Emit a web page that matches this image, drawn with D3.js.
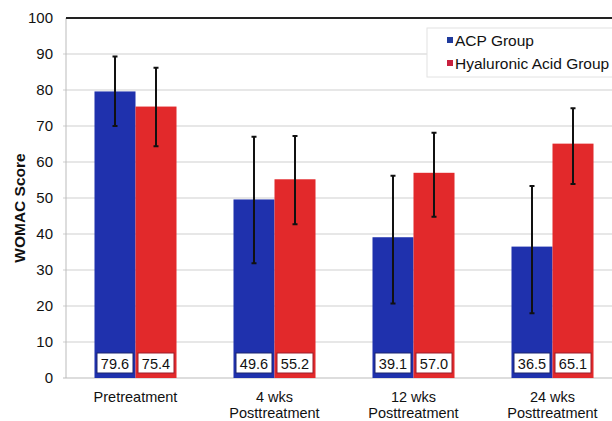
<!DOCTYPE html>
<html>
<head>
<meta charset="utf-8">
<script src="https://cdn.jsdelivr.net/npm/d3@7"></script>
<style>
  body { margin: 0; background: #fff; }
  text { font-family: "Liberation Sans", Arial, sans-serif; fill: #111; }
</style>
</head>
<body>
<div id="chart"></div>
<script>
// Data
const categories = ["Pretreatment", "4 wks\nPosttreatment", "12 wks\nPosttreatment", "24 wks\nPosttreatment"];
const seriesNames = ["ACP Group", "Hyaluronic Acid Group"];
const acpValues = [79.6, 49.6, 39.1, 36.5];
const haValues = [75.4, 55.2, 57.0, 65.1];
const acpErrLow = [70.0, 31.9, 20.7, 18.0];
const acpErrHigh = [89.3, 67.0, 56.2, 53.3];
const haErrLow = [64.4, 42.7, 44.8, 53.9];
const haErrHigh = [86.2, 67.2, 68.1, 74.9];
const yTicks = [0, 10, 20, 30, 40, 50, 60, 70, 80, 90, 100];

const colours = ["#1f31ad", "#e2292b"];
const boxBorders = ["#1a2470", "#9c1c2a"];
const legendColours = ["#1f3a9c", "#c8203e"];

const width = 612;
const height = 421;
const margin = { top: 18, right: -10, bottom: 43, left: 66 };

// Build rows for the grouped bars
const rows = categories.map((c, i) => ({
  category: c,
  bars: [
    { key: 0, value: acpValues[i], lo: acpErrLow[i], hi: acpErrHigh[i] },
    { key: 1, value: haValues[i], lo: haErrLow[i], hi: haErrHigh[i] },
  ],
}));

const svg = d3
  .select("#chart")
  .append("svg")
  .attr("width", width)
  .attr("height", height);

const xScale = d3
  .scaleBand()
  .domain(categories)
  .range([margin.left, width - margin.right])
  .paddingInner(0.41)
  .paddingOuter(0.205);

const xInner = d3.scaleBand().domain([0, 1]).range([0, xScale.bandwidth()]);

const yScale = d3
  .scaleLinear()
  .domain([0, 100])
  .range([height - margin.bottom, margin.top]);

// Grid lines
svg
  .append("g")
  .selectAll("line")
  .data(yTicks.filter((t) => t > 0 && t < 100))
  .join("line")
  .attr("x1", margin.left - 3)
  .attr("x2", width)
  .attr("y1", (d) => yScale(d))
  .attr("y2", (d) => yScale(d))
  .attr("stroke", "#cfcfcf")
  .attr("stroke-width", 1);

// Left and bottom axis lines
svg
  .append("line")
  .attr("x1", margin.left)
  .attr("x2", margin.left)
  .attr("y1", yScale(100))
  .attr("y2", yScale(0))
  .attr("stroke", "#bbb");
svg
  .append("line")
  .attr("x1", margin.left - 3)
  .attr("x2", width)
  .attr("y1", yScale(0))
  .attr("y2", yScale(0))
  .attr("stroke", "#bbb");

// Top frame line
svg
  .append("line")
  .attr("x1", margin.left)
  .attr("x2", width)
  .attr("y1", yScale(100))
  .attr("y2", yScale(100))
  .attr("stroke", "#222")
  .attr("stroke-width", 2);

// Y axis labels
const yAxis = d3.axisLeft(yScale).tickValues(yTicks).tickSize(0).tickPadding(13);
svg
  .append("g")
  .attr("transform", `translate(${margin.left}, 0)`)
  .call(yAxis)
  .call((g) => g.select(".domain").remove())
  .selectAll("text")
  .attr("font-size", 15)
  .attr("font-family", "Liberation Sans, Arial, sans-serif")
  .attr("fill", "#222");

svg
  .append("text")
  .attr("transform", `translate(25, 208) rotate(-90)`)
  .attr("text-anchor", "middle")
  .attr("font-size", 15.5)
  .attr("font-weight", "bold")
  .text("WOMAC Score");

// Bars
const groups = svg
  .append("g")
  .selectAll("g")
  .data(rows)
  .join("g")
  .attr("transform", (d) => `translate(${xScale(d.category)}, 0)`);

groups
  .selectAll("rect.bar")
  .data((d) => d.bars)
  .join("rect")
  .attr("class", "bar")
  .attr("x", (d) => xInner(d.key))
  .attr("width", xInner.bandwidth())
  .attr("y", (d) => yScale(d.value))
  .attr("height", (d) => yScale(0) - yScale(d.value))
  .attr("fill", (d) => colours[d.key]);

// Error bars
const capHalf = 2.5;
groups
  .selectAll("path.err")
  .data((d) => d.bars)
  .join("path")
  .attr("class", "err")
  .attr("fill", "none")
  .attr("stroke", "#111")
  .attr("stroke-width", 2)
  .attr("d", (d) => {
    const cx = xInner(d.key) + xInner.bandwidth() / 2;
    return `M${cx - capHalf},${yScale(d.hi)}H${cx + capHalf}
      M${cx},${yScale(d.hi)}V${yScale(d.lo)}
      M${cx - capHalf},${yScale(d.lo)}H${cx + capHalf}`;
  });

// Value boxes at the bottom of each bar
const boxInset = 2.5;
groups
  .selectAll("rect.valbox")
  .data((d) => d.bars)
  .join("rect")
  .attr("class", "valbox")
  .attr("x", (d) => xInner(d.key) + boxInset)
  .attr("width", xInner.bandwidth() - boxInset * 2)
  .attr("y", yScale(0) - 25)
  .attr("height", 20)
  .attr("fill", "#fff")
  .attr("stroke", (d) => boxBorders[d.key])
  .attr("stroke-width", 1);

groups
  .selectAll("text.val")
  .data((d) => d.bars)
  .join("text")
  .attr("class", "val")
  .attr("x", (d) => xInner(d.key) + xInner.bandwidth() / 2)
  .attr("y", yScale(0) - 9.5)
  .attr("text-anchor", "middle")
  .attr("font-size", 14.5)
  .text((d) => d.value.toFixed(1));

// Category labels
svg
  .append("g")
  .selectAll("text")
  .data(categories)
  .join("text")
  .attr("text-anchor", "middle")
  .attr("font-size", 14.5)
  .attr("x", (d) => xScale(d) + xScale.bandwidth() / 2)
  .attr("y", yScale(0) + 24)
  .selectAll("tspan")
  .data((d) => d.split("\n"))
  .join("tspan")
  .attr("x", function () {
    return this.parentNode.getAttribute("x");
  })
  .attr("dy", (d, i) => (i === 0 ? 0 : 16))
  .text((d) => d);

// Legend
const legend = svg.append("g").attr("transform", "translate(427, 28)");
legend
  .append("rect")
  .attr("width", 200)
  .attr("height", 49)
  .attr("fill", "#fff")
  .attr("stroke", "#e2e2e2");

const legendItems = legend
  .selectAll("g")
  .data(seriesNames)
  .join("g")
  .attr("transform", (d, i) => `translate(20, ${12 + i * 23})`);

legendItems
  .append("rect")
  .attr("x", 0)
  .attr("y", -3)
  .attr("width", 6)
  .attr("height", 6)
  .attr("fill", (d, i) => legendColours[i]);

legendItems
  .append("text")
  .attr("x", 8)
  .attr("y", 5.5)
  .attr("font-size", 15.5)
  .text((d) => d);
</script>
</body>
</html>
